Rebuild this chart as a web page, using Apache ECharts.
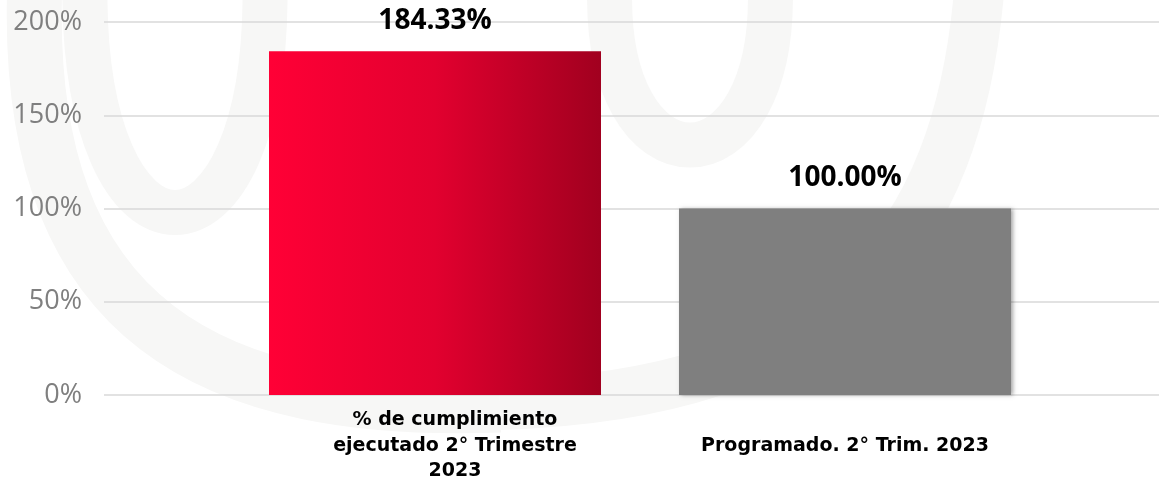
<!DOCTYPE html>
<html>
<head>
<meta charset="utf-8">
<script src="https://cdn.jsdelivr.net/npm/echarts@6/dist/echarts.min.js"></script>
<style>
  html, body { margin: 0; padding: 0; background: #fff; }
  #chart { width: 1159px; height: 484px; }
</style>
</head>
<body>
<div id="chart"></div>
<script>
var categories = ['% de cumplimiento\nejecutado 2° Trimestre\n2023', 'Programado. 2° Trim. 2023'];
var values = [184.33, 100.00];
var yTicks = [0, 50, 100, 150, 200];

var myChart = echarts.init(document.getElementById('chart'));

var wm = '#f7f7f6'; // color de la marca de agua

var catLabel = {
    interval: 0,
    margin: 51,
    verticalAlign: 'middle',
    color: '#000000',
    fontSize: 19,
    fontWeight: 'bold',
    fontFamily: 'DejaVu Sans',
    lineHeight: 25.5
};

var option = {
    backgroundColor: '#ffffff',
    animation: false,
    // marca de agua muy tenue al fondo
    graphic: [
        { type: 'bezierCurve', silent: true, z: -10,
          shape: { x1: 35, y1: -20, cpx1: 20, cpy1: 330, cpx2: 220, cpy2: 415, x2: 500, y2: 405 },
          style: { stroke: wm, lineWidth: 55, fill: null } },
        { type: 'bezierCurve', silent: true, z: -10,
          shape: { x1: 500, y1: 405, cpx1: 830, cpy1: 395, cpx2: 960, cpy2: 250, x2: 980, y2: -20 },
          style: { stroke: wm, lineWidth: 50, fill: null } },
        { type: 'bezierCurve', silent: true, z: -10,
          shape: { x1: 85, y1: -20, cpx1: 80, cpy1: 290, cpx2: 270, cpy2: 290, x2: 265, y2: -20 },
          style: { stroke: wm, lineWidth: 45, fill: null } },
        { type: 'bezierCurve', silent: true, z: -10,
          shape: { x1: 610, y1: -20, cpx1: 600, cpy1: 200, cpx2: 780, cpy2: 200, x2: 770, y2: -20 },
          style: { stroke: wm, lineWidth: 45, fill: null } }
    ],
    grid: [
        { left: 104, right: 0, top: 22, bottom: 89, outerBoundsMode: 'none' },
        { left: 230, right: 109, top: 22, bottom: 89, outerBoundsMode: 'none' }
    ],
    xAxis: [
        {
            type: 'category',
            gridIndex: 0,
            data: [''],
            axisLine: { show: false },
            axisTick: { show: false },
            axisLabel: { show: false }
        },
        {
            type: 'category',
            gridIndex: 1,
            data: [
                { value: categories[0], textStyle: Object.assign({}, catLabel, { padding: [0, 0, 0, 40] }) },
                categories[1]
            ],
            axisLine: { show: false },
            axisTick: { show: false },
            axisLabel: catLabel
        }
    ],
    yAxis: [
        {
            type: 'value',
            gridIndex: 0,
            min: yTicks[0],
            max: yTicks[yTicks.length - 1],
            interval: 50,
            axisLine: { show: false },
            axisTick: { show: false },
            axisLabel: {
                formatter: '{value}%',
                color: '#7f7f7f',
                fontSize: 27,
                fontFamily: 'Open Sans',
                margin: 22
            },
            splitLine: { lineStyle: { color: '#d9d9d9', width: 1.5 } }
        },
        {
            type: 'value',
            gridIndex: 1,
            min: yTicks[0],
            max: yTicks[yTicks.length - 1],
            interval: 50,
            show: false,
            splitLine: { show: false }
        }
    ],
    series: [
        {
            type: 'bar',
            xAxisIndex: 1,
            yAxisIndex: 1,
            barWidth: 332,
            data: [
                {
                    value: values[0],
                    itemStyle: {
                        color: new echarts.graphic.LinearGradient(0, 0, 1, 0, [
                            { offset: 0, color: '#ff0036' },
                            { offset: 0.5, color: '#e2002f' },
                            { offset: 1, color: '#a1001f' }
                        ])
                    }
                },
                {
                    value: values[1],
                    itemStyle: {
                        color: '#7f7f7f',
                        shadowColor: 'rgba(0,0,0,0.35)',
                        shadowBlur: 4,
                        shadowOffsetX: 2
                    }
                }
            ],
            label: {
                show: true,
                position: 'top',
                distance: 16,
                formatter: function (p) { return p.value.toFixed(2) + '%'; },
                color: '#000000',
                fontSize: 28,
                fontWeight: 'bold',
                fontFamily: 'Open Sans'
            }
        }
    ]
};

myChart.setOption(option);
</script>
</body>
</html>
